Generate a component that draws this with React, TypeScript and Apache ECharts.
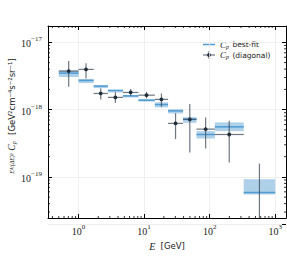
import React, { useEffect, useRef } from "react";
import * as echarts from "echarts";

// Energy bin edges [GeV]
const binLo = [0.5, 1.0, 1.7, 2.8, 4.75, 8.2, 14.6, 23.2, 39.3, 63, 120, 331];
const binHi = [1.0, 1.7, 2.8, 4.75, 8.2, 14.6, 23.2, 39.3, 63, 120, 331, 1000];
const binCenter = [0.707, 1.3, 2.18, 3.65, 6.24, 10.9, 18.4, 30.2, 49.8, 86.9, 199, 575];

// Best-fit Cp (line) and its band
const bestFit = [3.49e-18, 2.72e-18, 2.24e-18, 1.93e-18, 1.6e-18, 1.38e-18, 1.19e-18, 9.59e-19, 7.23e-19, 4.27e-19, 5.55e-19, 5.86e-20];
const bandHi = [3.8e-18, 2.85e-18, 2.29e-18, 1.95e-18, 1.64e-18, 1.43e-18, 1.28e-18, 1.01e-18, 7.73e-19, 4.79e-19, 6.46e-19, 9.25e-20];
const bandLo = [3.05e-18, 2.48e-18, 2.09e-18, 1.8e-18, 1.52e-18, 1.32e-18, 1.08e-18, 8.77e-19, 6.37e-19, 3.72e-19, 4.79e-19, 5.47e-20];

// Diagonal Cp points with error bars
const diagValue = [3.74e-18, 3.96e-18, 1.74e-18, 1.52e-18, 1.8e-18, 1.64e-18, 1.42e-18, 6.24e-19, 7.14e-19, 5.13e-19, 4.27e-19, 1.0e-20];
const diagErrHi = [5.27e-18, 4.87e-18, 2.07e-18, 1.82e-18, 2.02e-18, 1.84e-18, 1.74e-18, 8.87e-19, 1.21e-18, 7.66e-19, 6.81e-19, 1.58e-19];
const diagErrLo = [2.18e-18, 2.91e-18, 1.42e-18, 1.26e-18, 1.61e-18, 1.47e-18, 1.1e-18, 3.64e-19, 2.31e-19, 2.65e-19, 1.64e-19, 1e-21];

const X_MIN = 0.342;
const X_MAX = 1462;
const Y_MIN = 2.45e-20;
const Y_MAX = 1.75e-17;

const LINE_BLUE = "#4f9bd3";
const BAND_BLUE = "rgba(110,170,215,0.55)";
const ERR_COL = "rgba(60,74,88,0.75)";
const DOT_COL = "#1e2b38";
const SERIF = "Liberation Serif";
const SANS = "DejaVu Sans";

function minorVals(lo: number, hi: number) {
  const out: number[] = [];
  for (let e = -21; e <= 4; e++) {
    for (let m = 2; m <= 9; m++) {
      const v = m * Math.pow(10, e);
      if (v > lo && v < hi) out.push(v);
    }
  }
  return out;
}

const powLabel = (v: number) => {
  const e = Math.round(Math.log10(v));
  const s = e < 0 ? "\u2212" + Math.abs(e) : String(e);
  return "{b|10}{s|" + s + "}";
};

const labelRich = {
  b: { fontFamily: SERIF, fontSize: 10, color: "#222", verticalAlign: "bottom", lineHeight: 13 },
  s: { fontFamily: SERIF, fontSize: 7, color: "#222", verticalAlign: "top", lineHeight: 13 },
};

export default function App() {
  const ref = useRef<HTMLDivElement>(null);
  useEffect(() => {
    if (!ref.current) return;
    const chart = echarts.init(ref.current, null, { renderer: "svg" });

    const bins = binLo.map((lo, i) => [lo, binHi[i], bandLo[i], bandHi[i], bestFit[i]]);
    const pts = binLo.map((lo, i) => [binCenter[i], diagValue[i], lo, binHi[i], diagErrLo[i], diagErrHi[i]]);
    const xMinor = minorVals(X_MIN, X_MAX).map((v) => [v]);
    const yMinor = minorVals(Y_MIN, Y_MAX).map((v) => [v]);

    const axisCommon = {
      type: "log" as const,
      logBase: 10,
      axisLine: { show: true, lineStyle: { color: "#000", width: 1 } },
      axisTick: { show: true, inside: true, length: 4, lineStyle: { color: "#000", width: 1 } },
      minorTick: { show: false },
    };

    const option: any = {
      animation: false,
      grid: { left: 48, right: 1, top: 26, bottom: 38, containLabel: false },
      xAxis: [
        {
          ...axisCommon,
          position: "bottom",
          min: X_MIN,
          max: X_MAX,
          splitLine: { show: true, lineStyle: { color: "#ebebeb", width: 0.8 } },
          axisLabel: {
            show: true,
            margin: 5,
            showMinLabel: false,
            showMaxLabel: false,
            formatter: powLabel,
            rich: labelRich,
          },
        },
        {
          ...axisCommon,
          position: "top",
          min: X_MIN,
          max: X_MAX,
          splitLine: { show: false },
          axisLabel: { show: false },
        },
      ],
      yAxis: [
        {
          ...axisCommon,
          position: "left",
          min: Y_MIN,
          max: Y_MAX,
          splitLine: { show: true, lineStyle: { color: "#ebebeb", width: 0.8 } },
          axisLabel: {
            show: true,
            margin: 6,
            showMinLabel: false,
            showMaxLabel: false,
            formatter: powLabel,
            rich: labelRich,
          },
        },
        {
          ...axisCommon,
          position: "right",
          min: Y_MIN,
          max: Y_MAX,
          splitLine: { show: false },
          axisLabel: { show: false },
        },
      ],
      series: [
        {
          type: "custom",
          name: "band",
          xAxisIndex: 0,
          yAxisIndex: 0,
          clip: true,
          data: bins,
          renderItem: (params: any, api: any) => {
            const p1 = api.coord([api.value(0), api.value(3)]);
            const p2 = api.coord([api.value(1), api.value(2)]);
            const l1 = api.coord([api.value(0), api.value(4)]);
            const l2 = api.coord([api.value(1), api.value(4)]);
            return {
              type: "group",
              children: [
                {
                  type: "rect",
                  shape: { x: p1[0], y: p1[1], width: p2[0] - p1[0], height: p2[1] - p1[1] },
                  style: { fill: BAND_BLUE },
                },
                {
                  type: "line",
                  shape: { x1: l1[0], y1: l1[1], x2: l2[0], y2: l2[1] },
                  style: { stroke: LINE_BLUE, lineWidth: 1.5 },
                },
              ],
            };
          },
        },
        {
          type: "custom",
          name: "diag",
          xAxisIndex: 0,
          yAxisIndex: 0,
          clip: true,
          data: pts,
          renderItem: (params: any, api: any) => {
            const c = api.coord([api.value(0), api.value(1)]);
            const hl = api.coord([api.value(2), api.value(1)]);
            const hr = api.coord([api.value(3), api.value(1)]);
            const vb = api.coord([api.value(0), api.value(4)]);
            const vt = api.coord([api.value(0), api.value(5)]);
            return {
              type: "group",
              children: [
                {
                  type: "line",
                  shape: { x1: hl[0], y1: hl[1], x2: hr[0], y2: hr[1] },
                  style: { stroke: ERR_COL, lineWidth: 1.2 },
                },
                {
                  type: "line",
                  shape: { x1: vb[0], y1: vb[1], x2: vt[0], y2: vt[1] },
                  style: { stroke: ERR_COL, lineWidth: 1.2 },
                },
                {
                  type: "circle",
                  shape: { cx: c[0], cy: c[1], r: 1.9 },
                  style: { fill: DOT_COL },
                },
              ],
            };
          },
        },
        {
          type: "custom",
          name: "xminor",
          xAxisIndex: 0,
          yAxisIndex: 0,
          silent: true,
          data: xMinor,
          renderItem: (params: any, api: any) => {
            const cs = params.coordSys;
            const x = api.coord([api.value(0), 1e-18])[0];
            return {
              type: "group",
              children: [
                { type: "line", shape: { x1: x, y1: cs.y + cs.height, x2: x, y2: cs.y + cs.height - 2 }, style: { stroke: "#000", lineWidth: 0.8 } },
                { type: "line", shape: { x1: x, y1: cs.y, x2: x, y2: cs.y + 2 }, style: { stroke: "#000", lineWidth: 0.8 } },
              ],
            };
          },
        },
        {
          type: "custom",
          name: "yminor",
          xAxisIndex: 0,
          yAxisIndex: 0,
          silent: true,
          data: yMinor,
          renderItem: (params: any, api: any) => {
            const cs = params.coordSys;
            const y = api.coord([1, api.value(0)])[1];
            return {
              type: "group",
              children: [
                { type: "line", shape: { x1: cs.x, y1: y, x2: cs.x + 2, y2: y }, style: { stroke: "#000", lineWidth: 0.8 } },
                { type: "line", shape: { x1: cs.x + cs.width, y1: y, x2: cs.x + cs.width - 2, y2: y }, style: { stroke: "#000", lineWidth: 0.8 } },
              ],
            };
          },
        },
      ],
      graphic: [
        // legend
        { type: "line", shape: { x1: 203, y1: 44.5, x2: 215, y2: 44.5 }, style: { stroke: LINE_BLUE, lineWidth: 1.5 } },
        {
          type: "text",
          x: 220,
          y: 44.5,
          style: {
            text: "{i|C}{sub|p} best-fit",
            fontFamily: SANS,
            fontSize: 7.5,
            fill: "#222",
            verticalAlign: "middle",
            rich: {
              i: { fontFamily: SERIF, fontStyle: "italic", fontSize: 9, fill: "#222" },
              sub: { fontFamily: SERIF, fontStyle: "italic", fontSize: 6, fill: "#222", padding: [4, 1, 0, 0] },
            },
          },
        },
        { type: "line", shape: { x1: 203, y1: 55, x2: 215, y2: 55 }, style: { stroke: ERR_COL, lineWidth: 1.2 } },
        { type: "line", shape: { x1: 209, y1: 51, x2: 209, y2: 59 }, style: { stroke: ERR_COL, lineWidth: 1.2 } },
        { type: "circle", shape: { cx: 209, cy: 55, r: 1.9 }, style: { fill: DOT_COL } },
        {
          type: "text",
          x: 220,
          y: 55,
          style: {
            text: "{i|C}{sub|p} (diagonal)",
            fontFamily: SANS,
            fontSize: 7.5,
            fill: "#222",
            verticalAlign: "middle",
            rich: {
              i: { fontFamily: SERIF, fontStyle: "italic", fontSize: 9, fill: "#222" },
              sub: { fontFamily: SERIF, fontStyle: "italic", fontSize: 6, fill: "#222", padding: [4, 1, 0, 0] },
            },
          },
        },
        // x axis title
        {
          type: "text",
          x: 167,
          y: 246,
          style: {
            text: "{i|E}  [GeV]",
            fontFamily: SANS,
            fontSize: 8.5,
            fill: "#222",
            align: "center",
            verticalAlign: "middle",
            rich: { i: { fontFamily: SERIF, fontStyle: "italic", fontSize: 10, fill: "#222" } },
          },
        },
        // y axis title
        {
          type: "text",
          x: 12,
          y: 116,
          rotation: Math.PI / 2,
          style: {
            text: "{f|E\u2074/(\u0394E)\u00b2} {i|C}{sub|p}  [GeV\u00b2cm\u207b\u2074s\u207b\u00b2sr\u207b\u00b9]",
            fontFamily: SANS,
            fontSize: 8.5,
            fill: "#222",
            align: "center",
            verticalAlign: "middle",
            rich: {
              f: { fontFamily: SERIF, fontStyle: "italic", fontSize: 6, fill: "#222" },
              i: { fontFamily: SERIF, fontStyle: "italic", fontSize: 9.5, fill: "#222" },
              sub: { fontFamily: SERIF, fontStyle: "italic", fontSize: 6, fill: "#222", padding: [4, 1, 0, 0] },
            },
          },
        },
      ],
    };

    chart.setOption(option);
    return () => chart.dispose();
  }, []);

  return (
    <div
      ref={ref}
      style={{ position: "fixed", left: 0, top: 0, width: 287, height: 256, background: "#fff" }}
    />
  );
}
